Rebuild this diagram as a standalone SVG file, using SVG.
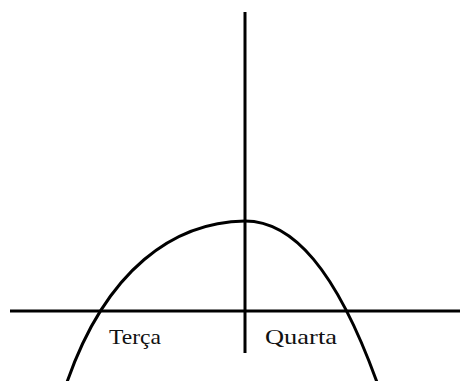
<svg xmlns="http://www.w3.org/2000/svg" width="470" height="381" viewBox="0 0 470 381">
<style>
.ln{stroke:#000;stroke-width:3;fill:none}
.lb{font-family:"Liberation Serif",serif;font-size:21px;fill:#111}
</style>
<rect width="470" height="381" fill="#fff"/>
<g id="connectors">
<line class="ln" x1="10" y1="311" x2="460" y2="311"/>
<line class="ln" x1="245" y1="12" x2="245" y2="353"/>
<path class="ln" d="M66,385 C106,268 175,222 245,221 C292,221 336,268 378,385"/>
</g>
<g id="terca"><text class="lb" x="109" y="344" textLength="52" lengthAdjust="spacingAndGlyphs">Terça</text></g>
<g id="quarta"><text class="lb" x="265" y="344" textLength="72" lengthAdjust="spacingAndGlyphs">Quarta</text></g>
</svg>
